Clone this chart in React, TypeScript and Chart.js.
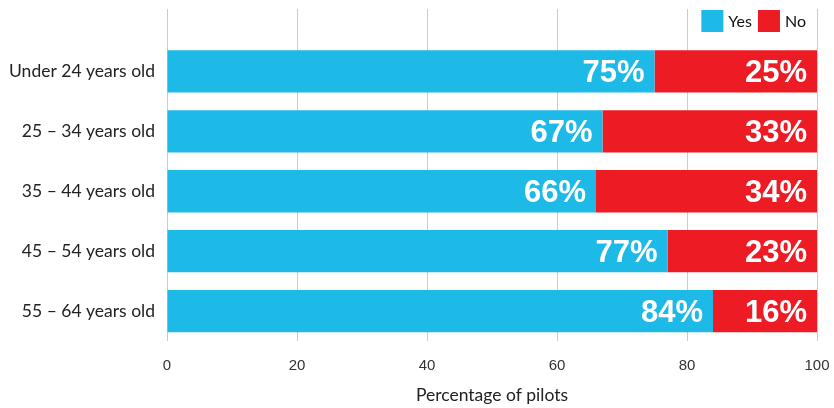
import React, { useEffect, useRef } from "react";
import { Chart, registerables } from "chart.js";

Chart.register(...registerables);

const categories = [
  "Under 24 years old",
  "25 – 34 years old",
  "35 – 44 years old",
  "45 – 54 years old",
  "55 – 64 years old",
];
const yesValues = [75, 67, 66, 77, 84];
const noValues = [25, 33, 34, 23, 16];
const xTicks = [0, 20, 40, 60, 80, 100];
const seriesNames = ["Yes", "No"];

const CYAN = "#1db9e7";
const RED = "#ed1c24";
const GRID = "#cccccc";
const LABEL_FONT = "Lato, 'Open Sans', sans-serif";

const extendGrid = {
  id: "extendGrid",
  beforeDatasetsDraw(chart: any) {
    const { ctx, chartArea, scales } = chart;
    const x = scales.x;
    ctx.save();
    ctx.strokeStyle = GRID;
    ctx.lineWidth = 1;
    x.ticks.forEach((t: any) => {
      const px = Math.round(x.getPixelForValue(t.value)) + 0.5;
      ctx.beginPath();
      ctx.moveTo(px, 9);
      ctx.lineTo(px, chartArea.top);
      ctx.stroke();
    });
    ctx.restore();
  },
};

const customLegend = {
  id: "customLegend",
  afterDraw(chart: any) {
    const { ctx, chartArea } = chart;
    ctx.save();
    ctx.font = `16px ${LABEL_FONT}`;
    ctx.textBaseline = "middle";
    ctx.textAlign = "left";
    const box = 22;
    const gapText = 5;
    const gapItem = 6;
    const items = chart.data.datasets.map((ds: any) => ({
      text: ds.label,
      color: ds.backgroundColor,
      w: ctx.measureText(ds.label).width,
    }));
    const total =
      items.reduce((s: number, it: any) => s + box + gapText + it.w, 0) +
      gapItem * (items.length - 1);
    let x = chartArea.right - 11 - total;
    const y = 10;
    items.forEach((it: any) => {
      ctx.fillStyle = it.color;
      ctx.fillRect(x, y, box, box);
      ctx.fillStyle = "#111111";
      ctx.fillText(it.text, x + box + gapText, y + box / 2 + 1);
      x += box + gapText + it.w + gapItem;
    });
    ctx.restore();
  },
};

const barLabels = {
  id: "barLabels",
  afterDatasetsDraw(chart: any) {
    const { ctx } = chart;
    ctx.save();
    ctx.fillStyle = "#ffffff";
    ctx.font = "bold 31px 'Liberation Sans', Arial, sans-serif";
    ctx.textAlign = "right";
    ctx.textBaseline = "middle";
    chart.data.datasets.forEach((ds: any, di: number) => {
      const meta = chart.getDatasetMeta(di);
      meta.data.forEach((bar: any, i: number) => {
        ctx.fillText(ds.data[i] + "%", bar.x - 10, bar.y + 2);
      });
    });
    ctx.restore();
  },
};

export default function App() {
  const ref = useRef<HTMLCanvasElement>(null);
  useEffect(() => {
    if (!ref.current) return;
    const chart = new Chart(ref.current, {
      type: "bar",
      data: {
        labels: categories,
        datasets: [
          {
            label: seriesNames[0],
            data: yesValues,
            backgroundColor: CYAN,
            borderWidth: 0,
            categoryPercentage: 1,
            barPercentage: 0.706,
          },
          {
            label: seriesNames[1],
            data: noValues,
            backgroundColor: RED,
            borderWidth: 0,
            categoryPercentage: 1,
            barPercentage: 0.706,
          },
        ],
      },
      options: {
        indexAxis: "y",
        animation: false,
        responsive: true,
        maintainAspectRatio: false,
        layout: { padding: { left: 0, right: 17, top: 41.5, bottom: 0 } },
        plugins: {
          legend: { display: false },
          tooltip: { enabled: false },
        },
        scales: {
          x: {
            stacked: true,
            min: 0,
            max: 100,
            afterBuildTicks: (scale: any) => {
              scale.ticks = xTicks.map((v) => ({ value: v }));
            },
            afterFit: (scale: any) => {
              scale.paddingLeft = 0;
              scale.paddingRight = 0;
            },
            grid: { color: GRID, drawTicks: false, lineWidth: 1 },
            border: { display: false },
            ticks: {
              color: "#333333",
              padding: 16,
              font: { family: "'Liberation Sans', Arial, sans-serif", size: 15 },
            },
            title: {
              display: true,
              text: "Percentage of pilots",
              color: "#222222",
              padding: { top: -6, bottom: 2 },
              font: { family: LABEL_FONT, size: 17.5 },
            },
          },
          y: {
            stacked: true,
            afterFit: (scale: any) => {
              scale.width = 167;
              scale.paddingTop = 0;
              scale.paddingBottom = 0;
            },
            grid: { display: false, drawTicks: false },
            border: { display: false },
            ticks: {
              color: "#222222",
              padding: 12,
              font: { family: LABEL_FONT, size: 17.5 },
            },
          },
        },
      },
      plugins: [extendGrid, barLabels, customLegend],
    });
    return () => chart.destroy();
  }, []);
  return (
    <div style={{ position: "absolute", left: 0, top: 0, width: 834, height: 408 }}>
      <canvas ref={ref} />
    </div>
  );
}
